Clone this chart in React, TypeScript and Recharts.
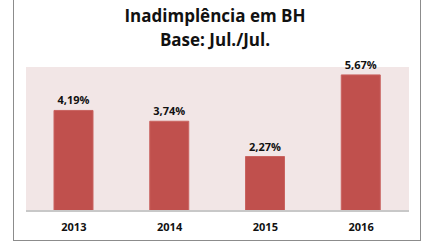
import { BarChart, Bar, XAxis, YAxis, CartesianGrid, LabelList } from "recharts";

const years = ["2013", "2014", "2015", "2016"];
const rates = [4.19, 3.74, 2.27, 5.67];

const data = years.map((year, i) => ({ year, rate: rates[i] }));

const fmt = (v: any) => `${Number(v).toFixed(2).replace(".", ",")}%`;

const App = () => {
  return (
    <div style={{ position: "absolute", left: 0, top: 0, width: 430, height: 243, background: "#fff", fontFamily: "'Open Sans', sans-serif" }}>
      <div style={{ position: "absolute", left: 13, top: -3, width: 408, height: 244, border: "1px solid #8c8c8c", boxSizing: "border-box" }} />
      <div style={{ position: "absolute", left: 0, width: 430, top: 4, textAlign: "center", fontWeight: 700, fontSize: 17, lineHeight: "24px", color: "#111" }}>
        <div>Inadimplência em BH</div>
        <div>Base: Jul./Jul.</div>
      </div>
      <div style={{ position: "absolute", left: 0, top: 0 }}>
        <BarChart width={430} height={243} data={data} margin={{ top: 67, left: 26, right: 21, bottom: 0 }}>
          <CartesianGrid horizontal={false} vertical={false} fill="#f2e6e6" stroke="none" />
          <YAxis hide domain={[0, 6]} />
          <XAxis
            dataKey="year"
            height={32}
            tickLine={false}
            axisLine={{ stroke: "#c8c8c8", strokeWidth: 2 }}
            tick={{ fill: "#111", fontSize: 11, fontWeight: 700 }}
            tickMargin={6}
          />
          <Bar dataKey="rate" fill="#c0504d" stroke="#c96360" barSize={39} isAnimationActive={false}>
            <LabelList dataKey="rate" position="top" offset={6} formatter={fmt} style={{ fill: "#111", fontSize: 11, fontWeight: 700 }} />
          </Bar>
        </BarChart>
      </div>
    </div>
  );
};

export default App;
